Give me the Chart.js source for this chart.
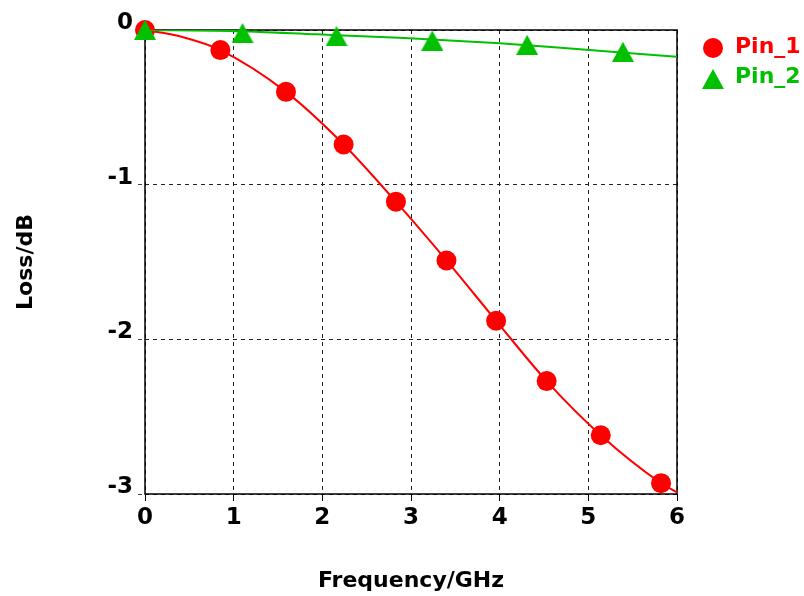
<!DOCTYPE html>
<html lang="en">
<head>
<meta charset="UTF-8">
<title>Loss vs Frequency</title>
<script src="https://cdn.jsdelivr.net/npm/chart.js"></script>
<style>
  body { margin: 0; background: #fff; }
  #wrap { width: 804px; height: 596px; }
</style>
</head>
<body>
<div id="wrap"><canvas id="grafico" width="804" height="596"></canvas></div>
<script>
// Pin_1 markers (GHz / dB)
const pin1Freq = [0, 0.85, 1.59, 2.24, 2.83, 3.40, 3.96, 4.53, 5.14, 5.82];
const pin1Loss = [0, -0.13, -0.40, -0.74, -1.11, -1.49, -1.88, -2.27, -2.62, -2.93];
// Pin_1 curve
const pin1CurveFreq = [0, 0.42, 0.85, 1.59, 2.24, 2.83, 3.40, 3.96, 4.53, 5.14, 5.82, 6];
const pin1CurveLoss = [0, -0.045, -0.13, -0.40, -0.74, -1.11, -1.49, -1.88, -2.27, -2.62, -2.93, -2.99];

// Pin_2 markers
const pin2Freq = [0, 1.10, 2.16, 3.24, 4.31, 5.39];
const pin2Loss = [0, -0.02, -0.04, -0.068, -0.096, -0.141];
// Pin_2 curve
const pin2CurveFreq = [0, 0.96, 1.94, 2.93, 4.00, 4.76, 6];
const pin2CurveLoss = [0, -0.006, -0.028, -0.052, -0.086, -0.118, -0.173];

const xTicks = [0, 1, 2, 3, 4, 5, 6];
const yTicks = [-3, -2, -1, 0];

const vermelho = '#ff0000';
const verde = '#00c000';
const fonte = '"DejaVu Sans", Verdana, sans-serif';

function pares(xs, ys) {
    return xs.map((x, i) => ({ x: x, y: ys[i] }));
}

// triangle centred on its bounding box, like the original plot
const triangulo = (function () {
    const c = document.createElement('canvas');
    c.width = 22; c.height = 20;
    const g = c.getContext('2d');
    g.fillStyle = verde;
    g.beginPath();
    g.moveTo(11, 0);
    g.lineTo(22, 20);
    g.lineTo(0, 20);
    g.closePath();
    g.fill();
    return c;
})();

const moldura = {
    id: 'moldura',
    beforeDatasetsDraw(chart) {
        const { ctx, chartArea: a } = chart;
        ctx.save();
        ctx.strokeStyle = '#000';
        ctx.lineWidth = 1.5;
        ctx.strokeRect(a.left, a.top, a.right - a.left, a.bottom - a.top);
        ctx.restore();
    }
};

const legenda = {
    id: 'legenda',
    afterDraw(chart) {
        const ctx = chart.ctx;
        let y = 48;
        ctx.save();
        chart.data.datasets
            .filter(d => d.legenda)
            .sort((a, b) => a.legenda - b.legenda)
            .forEach(d => {
                if (d.pointStyle === 'circle') {
                    ctx.fillStyle = d.backgroundColor;
                    ctx.beginPath();
                    ctx.arc(713, y, 10, 0, Math.PI * 2);
                    ctx.fill();
                } else {
                    ctx.drawImage(triangulo, 702, y - 10 + 1);
                }
                ctx.fillStyle = d.backgroundColor;
                ctx.font = 'bold 22px ' + fonte;
                ctx.textBaseline = 'alphabetic';
                ctx.textAlign = 'left';
                ctx.fillText(d.label, 735, y + 5);
                y += 30;
            });
        ctx.restore();
    }
};

new Chart(document.getElementById('grafico'), {
    type: 'scatter',
    data: {
        datasets: [
            {
                label: 'Pin_2',
                legenda: 2,
                data: pares(pin2Freq, pin2Loss),
                pointStyle: triangulo,
                backgroundColor: verde,
                showLine: false,
                clip: false,
                order: 0
            },
            {
                label: 'Pin_2 curve',
                data: pares(pin2CurveFreq, pin2CurveLoss),
                borderColor: verde,
                borderWidth: 2,
                pointRadius: 0,
                showLine: true,
                cubicInterpolationMode: 'monotone',
                order: 1
            },
            {
                label: 'Pin_1',
                legenda: 1,
                data: pares(pin1Freq, pin1Loss),
                pointStyle: 'circle',
                pointRadius: 10,
                borderWidth: 0,
                backgroundColor: vermelho,
                showLine: false,
                clip: false,
                order: 2
            },
            {
                label: 'Pin_1 curve',
                data: pares(pin1CurveFreq, pin1CurveLoss),
                borderColor: vermelho,
                borderWidth: 2,
                pointRadius: 0,
                showLine: true,
                cubicInterpolationMode: 'monotone',
                order: 3
            }
        ]
    },
    options: {
        responsive: false,
        animation: false,
        layout: { padding: { top: 30, right: 127, bottom: 0, left: 0 } },
        plugins: {
            legend: { display: false },
            tooltip: { enabled: false }
        },
        scales: {
            x: {
                type: 'linear',
                min: xTicks[0],
                max: xTicks[xTicks.length - 1],
                afterFit(s) { s.height = 102; },
                afterBuildTicks(s) { s.ticks = xTicks.map(v => ({ value: v })); },
                ticks: {
                    color: '#000',
                    padding: 3,
                    maxRotation: 0,
                    font: { family: fonte, size: 23, weight: 'bold' }
                },
                grid: { color: '#222', tickLength: 7, tickColor: '#000', tickBorderDash: [] },
                border: { display: false, dash: [4, 4] },
                title: {
                    display: true,
                    text: 'Frequency/GHz',
                    color: '#000',
                    padding: { top: 0, bottom: 2 },
                    font: { family: fonte, size: 22, weight: 'bold' }
                }
            },
            y: {
                type: 'linear',
                min: yTicks[0],
                max: yTicks[yTicks.length - 1],
                afterFit(s) { s.width = 145; },
                afterBuildTicks(s) { s.ticks = yTicks.map(v => ({ value: v })); },
                ticks: {
                    color: '#000',
                    padding: 5,
                    labelOffset: -7,
                    font: { family: fonte, size: 23, weight: 'bold' }
                },
                grid: { color: '#222', tickLength: 7, tickColor: '#444', tickBorderDash: [4, 4] },
                border: { display: false, dash: [4, 4] },
                title: {
                    display: true,
                    text: 'Loss/dB',
                    color: '#000',
                    padding: { top: 13, bottom: 0 },
                    font: { family: fonte, size: 22, weight: 'bold' }
                }
            }
        }
    },
    plugins: [moldura, legenda]
});
</script>
</body>
</html>
